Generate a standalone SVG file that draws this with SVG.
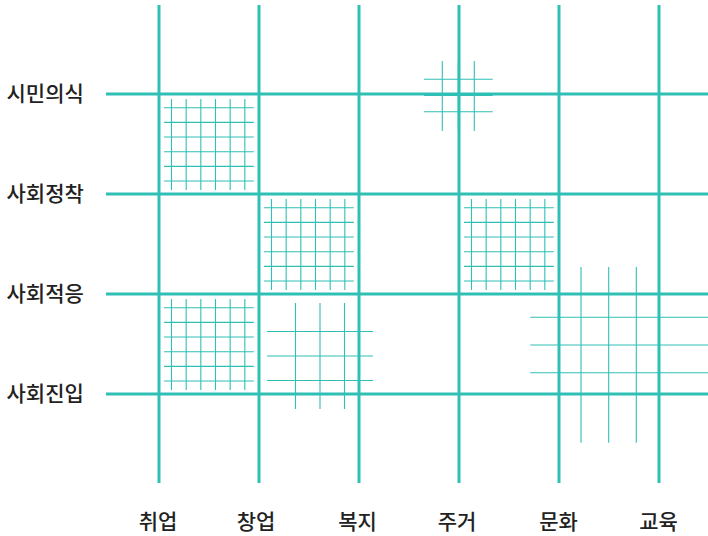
<svg xmlns="http://www.w3.org/2000/svg" xmlns:xlink="http://www.w3.org/1999/xlink" width="708" height="536" viewBox="0 0 708 536">
<style>
.main{stroke:#2fc0b5;stroke-width:3;fill:none}
.fine{stroke:#2fc0b5;stroke-width:1.1;fill:none}
.lbl{font-family:"Noto Sans CJK KR","Noto Sans",sans-serif;font-size:21px;font-weight:500;fill:#222}
</style>
<defs>
<g id="fineGrid" class="fine">
<path d="M12.5 5V96M27.17 5V96M41.83 5V96M56.5 5V96M71.17 5V96M85.83 5V96"/>
<path d="M5 13.7H94.8M5 28.37H94.8M5 43.03H94.8M5 57.7H94.8M5 72.37H94.8M5 87.03H94.8"/>
</g>
</defs>
<rect width="708" height="536" fill="#fff"/>
<g id="grid">
<path class="main" d="M159 5V483M259 5V483M359 5V483M459 5V483M559 5V483M659 5V483"/>
<path class="main" d="M106 94H708M106 194H708M106 294H708M106 394H708"/>
</g>
<g id="cell-취업-시민의식"><use xlink:href="#fineGrid" transform="translate(159 94)"/></g>
<g id="cell-창업-사회정착"><use xlink:href="#fineGrid" transform="translate(259 194)"/></g>
<g id="cell-주거-사회정착"><use xlink:href="#fineGrid" transform="translate(459 194)"/></g>
<g id="cell-취업-사회적응"><use xlink:href="#fineGrid" transform="translate(159 294)"/></g>
<g id="cell-복지-사회적응" class="fine">
<path d="M295.5 303V409M320 303V409M344.5 303V409M267 331.5H373M267 356H373M267 380.5H373"/>
</g>
<g id="cell-주거-시민의식" class="fine">
<path d="M442.3 61V131M458.3 61V131M474.3 61V131M424 79.3H492.7M424 95.5H492.7M424 111.7H492.7"/>
</g>
<g id="cell-교육-사회적응" class="fine">
<path d="M581 267V442.7M608.7 267V442.7M636.3 267V442.7M530.3 317.3H708M530.3 345H708M530.3 372.7H708"/>
</g>
<g id="row-labels" class="lbl">
<text x="6.5" y="100.5">시민의식</text>
<text x="6.5" y="200.5">사회정착</text>
<text x="6.5" y="300.5">사회적응</text>
<text x="6.5" y="400.5">사회진입</text>
</g>
<g id="col-labels" class="lbl" text-anchor="middle">
<text x="158" y="529">취업</text>
<text x="256" y="529">창업</text>
<text x="357.5" y="529">복지</text>
<text x="457" y="529">주거</text>
<text x="558.5" y="529">문화</text>
<text x="658.5" y="529">교육</text>
</g>
</svg>
